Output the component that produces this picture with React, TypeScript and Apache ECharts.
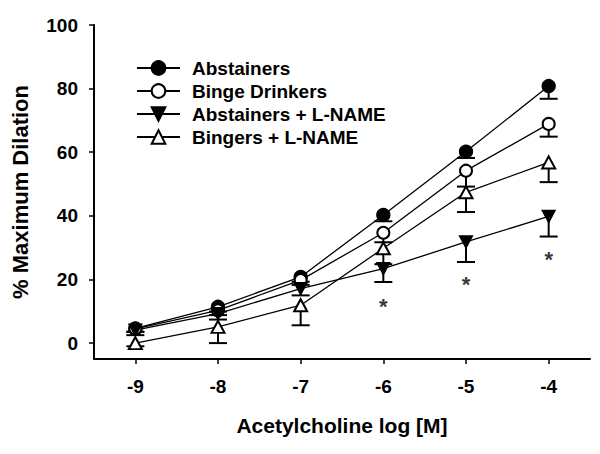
import React, { useEffect, useRef } from "react";
import * as echarts from "echarts";

const xValues = [-9, -8, -7, -6, -5, -4];
const xTicks = [-9, -8, -7, -6, -5, -4];
const yTicks = [0, 20, 40, 60, 80, 100];

const abstainers = [4.6, 11.4, 20.8, 40.3, 60.2, 80.8];
const abstainersErr = [1.0, 1.5, 1.5, 2.0, 2.0, 4.0];
const binge = [4.5, 10.3, 19.8, 34.7, 54.2, 68.9];
const bingeErr = [1.0, 1.5, 1.5, 3.0, 5.0, 4.0];
const abstLName = [4.1, 9.3, 17.1, 23.4, 31.8, 39.8];
const abstLNameErr = [1.6, 1.9, 2.1, 4.2, 6.3, 6.3];
const bingLName = [0.0, 5.1, 11.9, 29.8, 47.4, 56.8];
const bingLNameErr = [1.0, 5.1, 6.3, 5.0, 6.2, 6.2];

const starX = [-6, -5, -4];
const starY = [11.5, 18.4, 26.3];

const FONT = "'Liberation Sans', Arial, sans-serif";

function errSeries(vals: number[], errs: number[]) {
  return {
    type: "custom",
    silent: true,
    z: 1,
    renderItem: (_p: any, api: any) => {
      const x = api.value(0);
      const y = api.value(1);
      const lo = api.value(2);
      const p1 = api.coord([x, y]);
      const p2 = api.coord([x, lo]);
      const hw = 9;
      return {
        type: "group",
        children: [
          { type: "line", shape: { x1: p1[0], y1: p1[1], x2: p2[0], y2: p2[1] }, style: { stroke: "#000", lineWidth: 2 } },
          { type: "line", shape: { x1: p2[0] - hw, y1: p2[1], x2: p2[0] + hw, y2: p2[1] }, style: { stroke: "#000", lineWidth: 2 } },
        ],
      };
    },
    data: xValues.map((x, i) => [x, vals[i], vals[i] - errs[i]]),
  };
}

function lineSeries(name: string, vals: number[], symbol: string, size: any, rotate = 0) {
  return {
    type: "line",
    name,
    z: 3,
    symbol,
    symbolSize: size,
    symbolRotate: rotate,
    showAllSymbol: true,
    lineStyle: { color: "#000", width: 1.3 },
    itemStyle: { color: "#000", borderColor: "#000", borderWidth: 1.3 },
    emphasis: { disabled: true },
    data: xValues.map((x, i) => [x, vals[i]]),
  };
}

export default function App() {
  const ref = useRef<HTMLDivElement>(null);
  useEffect(() => {
    if (!ref.current) return;
    const chart = echarts.init(ref.current, null, { renderer: "svg" });
    chart.setOption({
      animation: false,
      backgroundColor: "#fff",
      grid: { left: 94, right: 10, top: 25, bottom: 95, outerBoundsMode: "none" },
      legend: {
        orient: "vertical",
        left: 136,
        top: 58,
        padding: 0,
        itemWidth: 43,
        itemHeight: 17,
        itemGap: 3,
        data: ["Abstainers", "Binge Drinkers", "Abstainers + L-NAME", "Bingers + L-NAME"],
        textStyle: {
          fontFamily: FONT,
          fontWeight: "bold",
          fontSize: 19,
          lineHeight: 20,
          color: "#000",
          padding: [0, 0, 0, 7],
        },
        selectedMode: false,
      },
      xAxis: {
        type: "value",
        min: -9.5,
        max: -3.5,
        splitLine: { show: false },
        axisLine: { onZero: false, lineStyle: { color: "#000", width: 2 } },
        axisTick: { show: true, customValues: xTicks, length: 5, lineStyle: { color: "#000", width: 1.5 } },
        axisLabel: {
          customValues: xTicks,
          margin: 18,
          color: "#000",
          fontFamily: FONT,
          fontWeight: "bold",
          fontSize: 19,
        },
        name: "Acetylcholine log [M]",
        nameLocation: "middle",
        nameGap: 56,
        nameTextStyle: { fontFamily: FONT, fontWeight: "bold", fontSize: 21, color: "#000", verticalAlign: "top" },
      },
      yAxis: {
        type: "value",
        min: -5,
        max: 100,
        splitLine: { show: false },
        axisLine: { show: true, onZero: false, lineStyle: { color: "#000", width: 2 } },
        axisTick: { show: true, customValues: yTicks, length: 5, lineStyle: { color: "#000", width: 1.5 } },
        axisLabel: {
          customValues: yTicks,
          margin: 16,
          color: "#000",
          fontFamily: FONT,
          fontWeight: "bold",
          fontSize: 19,
        },
        name: "% Maximum Dilation",
        nameLocation: "middle",
        nameGap: 63,
        nameTextStyle: { fontFamily: FONT, fontWeight: "bold", fontSize: 22, color: "#000" },
      },
      series: [
        errSeries(abstainers, abstainersErr),
        errSeries(binge, bingeErr),
        errSeries(abstLName, abstLNameErr),
        errSeries(bingLName, bingLNameErr),
        lineSeries("Abstainers", abstainers, "circle", 13),
        lineSeries("Binge Drinkers", binge, "emptyCircle", 12),
        lineSeries("Abstainers + L-NAME", abstLName, "triangle", [13, 12], 180),
        lineSeries("Bingers + L-NAME", bingLName, "emptyTriangle", [13, 12]),
        {
          type: "scatter",
          silent: true,
          symbolSize: 0,
          label: {
            show: true,
            position: "inside",
            formatter: "*",
            color: "#000",
            fontFamily: FONT,
            fontWeight: "bold",
            fontSize: 22,
          },
          data: starX.map((x, i) => [x, starY[i]]),
        },
      ],
    });
    return () => chart.dispose();
  }, []);
  return <div ref={ref} style={{ width: 600, height: 454, marginLeft: -8, marginTop: -8 }} />;
}
